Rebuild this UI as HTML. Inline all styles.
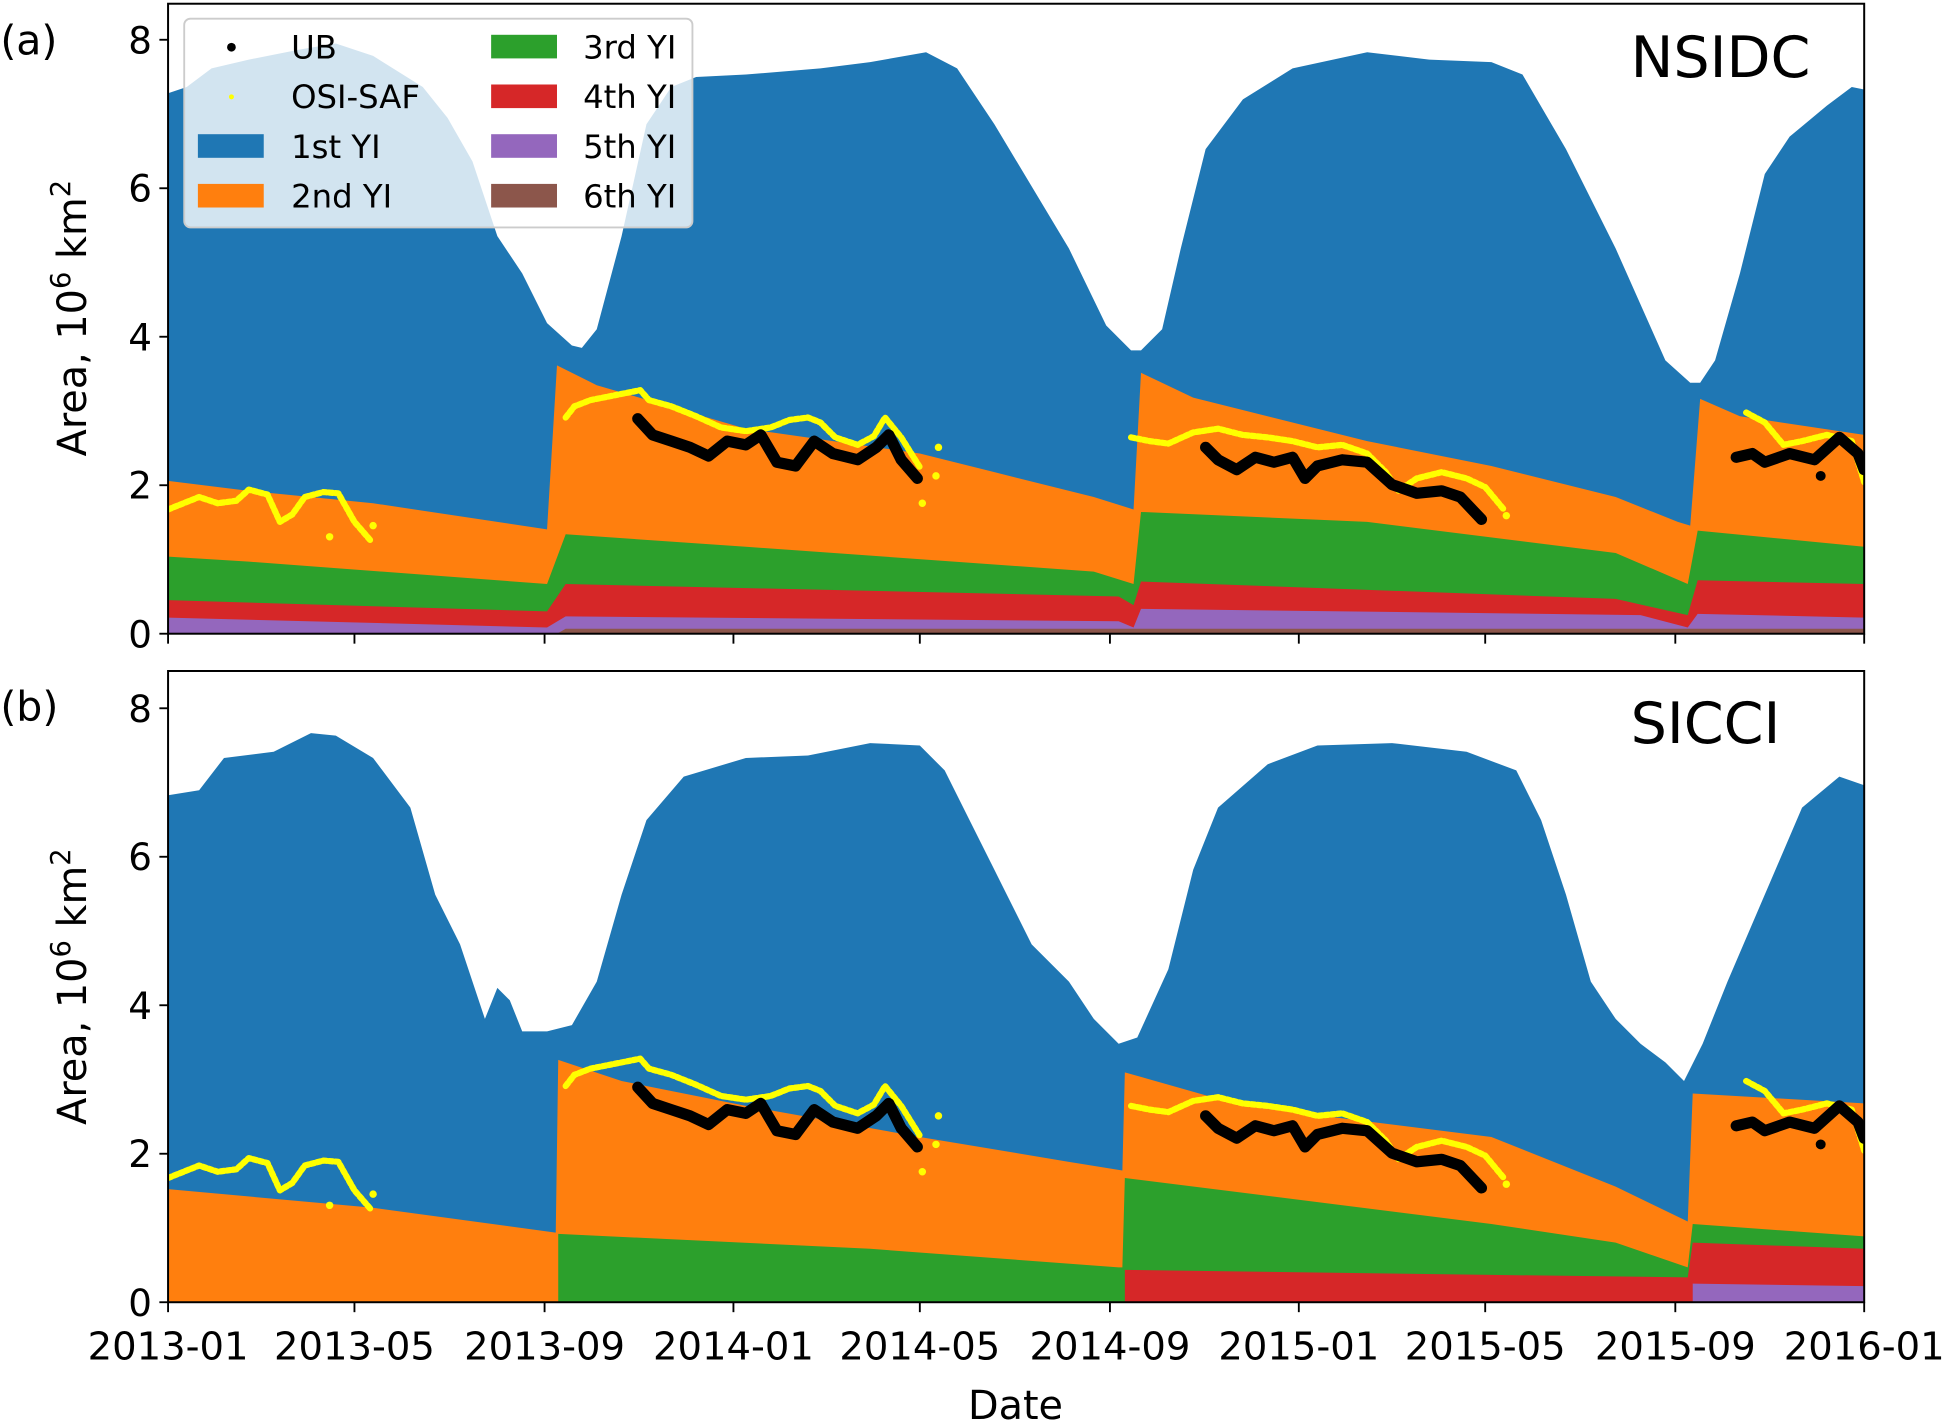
<!DOCTYPE html>
<html><head><meta charset="utf-8"><style>
html,body{margin:0;padding:0;background:#fff;}
svg{display:block;}
text{font-family:"DejaVu Sans","Liberation Sans",sans-serif;fill:#000;}
</style></head><body>
<svg width="1949" height="1424" viewBox="0 0 1568 1146" xmlns="http://www.w3.org/2000/svg">
<defs>
<clipPath id="ca"><rect x="135" y="3" width="1365" height="507"/></clipPath>
<clipPath id="cb"><rect x="135" y="540" width="1365" height="508"/></clipPath>
<g id="obs" stroke-linejoin="round" stroke-linecap="round" fill="none">
<polyline stroke="#ffff00" stroke-width="5" stroke-dasharray="3 2" points="135,410 150,404 160,400 175,405 190,403 200,394 215,398 225,420 235,414 245,400 260,396 272,397 285,420 298,435"/>
<polyline stroke="#ffff00" stroke-width="5" stroke-dasharray="3 2" points="455,336 462,327 475,322 490,319 505,316 515,314 522,322 540,327 560,335 580,344 600,347 620,344 635,338 650,336 660,340 672,352 690,358 703,351 712,336 725,352 740,376"/>
<polyline stroke="#ffff00" stroke-width="5" stroke-dasharray="3 2" points="910,352 925,355 940,357 960,348 980,345 1000,350 1020,352 1040,355 1060,360 1080,358 1100,365 1115,380 1125,395 1140,385 1160,380 1180,385 1195,392 1210,410"/>
<polyline stroke="#ffff00" stroke-width="5" stroke-dasharray="3 2" points="1405,332 1420,340 1435,358 1450,355 1470,350 1490,355 1500,388"/>
<g fill="#ffff00" stroke="none"><circle cx="300" cy="423" r="3"/><circle cx="265" cy="432" r="3"/><circle cx="742" cy="405" r="3"/><circle cx="755" cy="360" r="3"/><circle cx="753" cy="383" r="3"/><circle cx="1212" cy="415" r="3"/></g>
<polyline stroke="#000" stroke-width="9" points="513,337 525,350 540,355 555,360 570,367 585,355 600,358 612,350 625,372 640,375 655,355 670,365 690,370 705,360 715,350 725,370 738,385"/>
<polyline stroke="#000" stroke-width="9" points="970,360 980,370 995,378 1010,368 1025,372 1040,368 1050,385 1060,375 1080,370 1100,372 1120,390 1140,397 1160,395 1175,400 1192,418"/>
<polyline stroke="#000" stroke-width="9" points="1397,368 1410,365 1420,372 1440,365 1460,370 1480,352 1495,365 1500,378"/>
<circle cx="1465" cy="383" r="4" fill="#000"/>
</g>
</defs>

<!-- Panel a -->
<g clip-path="url(#ca)">
<polygon fill="#1f77b4" points="135,510 135,75 150,70 170,55 200,48 240,40 270,35 300,45 340,70 360,95 380,130 400,190 420,220 440,260 460,278 468,280 480,265 500,190 520,100 540,70 560,62 600,60 660,55 700,50 745,42 770,55 800,100 830,150 860,200 890,262 910,282 918,282 935,265 950,200 970,120 1000,80 1040,55 1100,42 1150,48 1200,50 1225,60 1260,120 1300,200 1340,290 1360,308 1368,308 1380,290 1400,220 1420,140 1440,110 1470,85 1490,70 1500,72 1500,510"/>
<polygon fill="#ff7f0e" points="135,510 135,387 200,395 300,405 440,426 448,294 480,310 600,345 740,365 800,380 880,400 912,410 918,300 960,320 1100,355 1200,375 1300,400 1350,420 1360,423 1368,321 1400,335 1500,350 1500,510"/>
<polygon fill="#2ca02c" points="135,510 135,448 200,452 440,470 455,430 600,440 880,460 912,470 918,412 1100,420 1300,445 1358,470 1366,427 1500,440 1500,510"/>
<polygon fill="#d62728" points="135,510 135,483 440,492 455,470 900,480 912,487 918,468 1300,482 1358,495 1366,467 1500,470 1500,510"/>
<polygon fill="#9467bd" points="135,510 135,497 440,505 455,496 900,500 912,505 918,490 1320,495 1358,505 1366,494 1500,497 1500,510"/>
<polygon fill="#8c564b" points="448,510 455,506 1500,506 1500,510"/>
<use href="#obs"/>
</g>
<rect x="135" y="3" width="1365" height="507" fill="none" stroke="#000" stroke-width="1.6"/>

<!-- legend -->
<rect x="148" y="15" width="409" height="168" rx="5" fill="#fff" fill-opacity="0.8" stroke="#ccc" stroke-width="1.5"/>
<circle cx="186" cy="38" r="3.5" fill="#000"/>
<circle cx="186" cy="78" r="2" fill="#ffff00"/>
<rect x="159" y="108" width="53" height="19" fill="#1f77b4"/>
<rect x="159" y="148" width="53" height="19" fill="#ff7f0e"/>
<rect x="395" y="28" width="53" height="19" fill="#2ca02c"/>
<rect x="395" y="68" width="53" height="19" fill="#d62728"/>
<rect x="395" y="108" width="53" height="19" fill="#9467bd"/>
<rect x="395" y="148" width="53" height="19" fill="#8c564b"/>
<g font-size="26">
<text x="234" y="47">UB</text>
<text x="234" y="87">OSI-SAF</text>
<text x="234" y="127">1st YI</text>
<text x="234" y="167">2nd YI</text>
<text x="469" y="47">3rd YI</text>
<text x="469" y="87">4th YI</text>
<text x="469" y="127">5th YI</text>
<text x="469" y="167">6th YI</text>
</g>
<text x="1312" y="62" font-size="46">NSIDC</text>
<text x="0" y="44" font-size="33">(a)</text>

<!-- Panel b -->
<g clip-path="url(#cb)">
<polygon fill="#1f77b4" points="135,1048 135,640 160,636 180,610 220,605 250,590 270,592 300,610 330,650 350,720 370,760 390,820 400,795 410,805 420,830 440,830 460,825 480,790 500,720 520,660 550,625 600,610 650,608 700,598 740,600 760,620 780,660 800,700 830,760 860,790 880,820 900,840 915,835 940,780 960,700 980,650 1020,615 1060,600 1120,598 1180,605 1220,620 1240,660 1260,720 1280,790 1300,820 1320,840 1340,855 1355,870 1370,840 1390,790 1420,720 1450,650 1480,625 1500,632 1500,1048"/>
<polygon fill="#ff7f0e" points="135,1048 135,957 300,972 447,992 449,853 500,870 600,890 740,915 860,935 903,942 905,863 1000,890 1200,915 1300,955 1358,983 1362,880 1500,888 1500,1048"/>
<polygon fill="#2ca02c" points="449,1048 449,993 700,1005 900,1020 903,1020 905,948 1200,985 1300,1000 1358,1020 1362,985 1500,995 1500,1048"/>
<polygon fill="#d62728" points="905,1048 905,1022 1200,1026 1358,1028 1362,1000 1500,1005 1500,1048"/>
<polygon fill="#9467bd" points="1362,1048 1362,1033 1500,1035 1500,1048"/>
<use href="#obs" transform="translate(0,538)"/>
</g>
<rect x="135" y="540" width="1365" height="508" fill="none" stroke="#000" stroke-width="1.6"/>
<text x="1312" y="598" font-size="46">SICCI</text>
<text x="0" y="580" font-size="33">(b)</text>

<!-- y ticks -->
<g stroke="#000" stroke-width="1.5">
<line x1="128" y1="510" x2="135" y2="510"/><line x1="128" y1="390.5" x2="135" y2="390.5"/><line x1="128" y1="271" x2="135" y2="271"/><line x1="128" y1="151.5" x2="135" y2="151.5"/><line x1="128" y1="32" x2="135" y2="32"/>
<line x1="128" y1="1048" x2="135" y2="1048"/><line x1="128" y1="928.5" x2="135" y2="928.5"/><line x1="128" y1="809" x2="135" y2="809"/><line x1="128" y1="689.5" x2="135" y2="689.5"/><line x1="128" y1="570" x2="135" y2="570"/>
</g>
<g font-size="30" text-anchor="end">
<text x="122" y="521">0</text><text x="122" y="401">2</text><text x="122" y="282">4</text><text x="122" y="162">6</text><text x="122" y="43">8</text>
<text x="122" y="1059">0</text><text x="122" y="939">2</text><text x="122" y="820">4</text><text x="122" y="700">6</text><text x="122" y="581">8</text>
</g>
<text transform="translate(69,256) rotate(-90)" font-size="32" text-anchor="middle">Area, 10<tspan font-size="22" dy="-13">6</tspan><tspan dy="13"> km</tspan><tspan font-size="22" dy="-13">2</tspan></text>
<text transform="translate(69,794) rotate(-90)" font-size="32" text-anchor="middle">Area, 10<tspan font-size="22" dy="-13">6</tspan><tspan dy="13"> km</tspan><tspan font-size="22" dy="-13">2</tspan></text>

<!-- x ticks -->
<g stroke="#000" stroke-width="1.5">
<line x1="135" y1="510" x2="135" y2="518"/><line x1="285" y1="510" x2="285" y2="518"/><line x1="438" y1="510" x2="438" y2="518"/><line x1="590" y1="510" x2="590" y2="518"/><line x1="740" y1="510" x2="740" y2="518"/><line x1="893" y1="510" x2="893" y2="518"/><line x1="1045" y1="510" x2="1045" y2="518"/><line x1="1195" y1="510" x2="1195" y2="518"/><line x1="1348" y1="510" x2="1348" y2="518"/><line x1="1500" y1="510" x2="1500" y2="518"/>
<line x1="135" y1="1048" x2="135" y2="1056"/><line x1="285" y1="1048" x2="285" y2="1056"/><line x1="438" y1="1048" x2="438" y2="1056"/><line x1="590" y1="1048" x2="590" y2="1056"/><line x1="740" y1="1048" x2="740" y2="1056"/><line x1="893" y1="1048" x2="893" y2="1056"/><line x1="1045" y1="1048" x2="1045" y2="1056"/><line x1="1195" y1="1048" x2="1195" y2="1056"/><line x1="1348" y1="1048" x2="1348" y2="1056"/><line x1="1500" y1="1048" x2="1500" y2="1056"/>
</g>
<g font-size="31" text-anchor="middle">
<text x="135" y="1094">2013-01</text><text x="285" y="1094">2013-05</text><text x="438" y="1094">2013-09</text><text x="590" y="1094">2014-01</text><text x="740" y="1094">2014-05</text><text x="893" y="1094">2014-09</text><text x="1045" y="1094">2015-01</text><text x="1195" y="1094">2015-05</text><text x="1348" y="1094">2015-09</text><text x="1500" y="1094">2016-01</text>
<text x="817" y="1142" font-size="32">Date</text>
</g>
</svg>
</body></html>
